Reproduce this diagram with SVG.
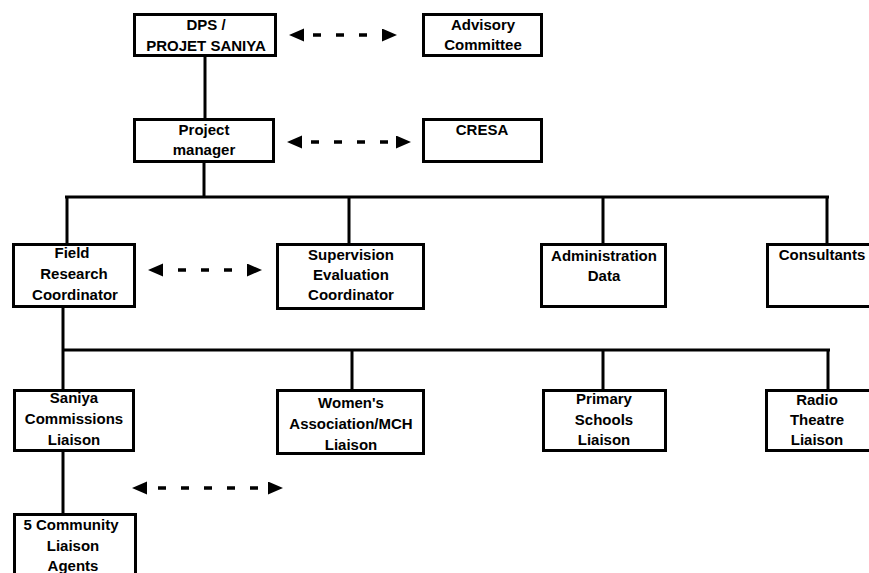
<svg xmlns="http://www.w3.org/2000/svg" width="869" height="573" viewBox="0 0 869 573">
<style>
.box{fill:#fff;stroke:#000;stroke-width:3}
.ln{fill:none;stroke:#000;stroke-width:3}
.dash{fill:none;stroke:#000;stroke-width:3.5;stroke-dasharray:8 15;stroke-dashoffset:14;marker-start:url(#ah);marker-end:url(#ah)}
text{font-family:"Liberation Sans",Arial,sans-serif;font-weight:bold;font-size:15px;fill:#000;text-anchor:middle}
</style>
<defs>
<marker id="ah" markerUnits="userSpaceOnUse" markerWidth="17" markerHeight="14" refX="0" refY="6.5" orient="auto-start-reverse" viewBox="0 0 17 14">
<path d="M0,0 L15,6.5 L0,13 z" fill="#000"/>
</marker>
</defs>
<rect width="869" height="573" fill="#fff"/>
<g id="connectors">
<path class="ln" d="M205,57 V118"/>
<path class="ln" d="M204,163 V197"/>
<path class="ln" d="M65,197 H829"/>
<path class="ln" d="M67,197 V243 M349,197 V243 M603,197 V243 M827,197 V243"/>
<path class="ln" d="M63,308 V350"/>
<path class="ln" d="M62,350 H830"/>
<path class="ln" d="M63,350 V389 M352,350 V389 M603,350 V389 M828,350 V389"/>
<path class="ln" d="M63,452 V513"/>
<path class="dash" d="M304,35 H382"/>
<path class="dash" d="M302,142 H396"/>
<path class="dash" style="stroke-dashoffset:8" d="M163,270 H247"/>
<path class="dash" style="stroke-dashoffset:12" d="M147,488 H268"/>
</g>
<g id="dps"><rect class="box" x="134.5" y="14.5" width="141" height="41"/><text x="206" y="30">DPS /</text><text x="206" y="51">PROJET SANIYA</text></g>
<g id="advisory"><rect class="box" x="423.5" y="14.5" width="118" height="41"/><text x="483" y="30">Advisory</text><text x="483" y="50">Committee</text></g>
<g id="pm"><rect class="box" x="134.5" y="119.5" width="139" height="42"/><text x="204" y="135">Project</text><text x="204" y="155">manager</text></g>
<g id="cresa"><rect class="box" x="423.5" y="119.5" width="118" height="42"/><text x="482" y="135">CRESA</text></g>
<g id="field"><rect class="box" x="13.5" y="244.5" width="121" height="62"/><text x="72" y="258">Field</text><text x="74" y="279">Research</text><text x="75" y="300">Coordinator</text></g>
<g id="supervision"><rect class="box" x="277.5" y="244.5" width="146" height="64"/><text x="351" y="260">Supervision</text><text x="351" y="280">Evaluation</text><text x="351" y="300">Coordinator</text></g>
<g id="admin"><rect class="box" x="541.5" y="244.5" width="124" height="62"/><text x="604" y="261">Administration</text><text x="604" y="281">Data</text></g>
<g id="consultants"><rect class="box" x="767.5" y="244.5" width="120" height="62"/><text x="822" y="260">Consultants</text></g>
<g id="saniya"><rect class="box" x="14.5" y="390.5" width="119" height="60"/><text x="74" y="403">Saniya</text><text x="74" y="424">Commissions</text><text x="74" y="445">Liaison</text></g>
<g id="womens"><rect class="box" x="277.5" y="390.5" width="146" height="63"/><text x="351" y="408">Women's</text><text x="351" y="429">Association/MCH</text><text x="351" y="450">Liaison</text></g>
<g id="primary"><rect class="box" x="543.5" y="390.5" width="122" height="60"/><text x="604" y="404">Primary</text><text x="604" y="425">Schools</text><text x="604" y="445">Liaison</text></g>
<g id="radio"><rect class="box" x="766.5" y="390.5" width="120" height="60"/><text x="817" y="405">Radio</text><text x="817" y="425">Theatre</text><text x="817" y="445">Liaison</text></g>
<g id="community"><rect class="box" x="14.5" y="514.5" width="121" height="80"/><text x="71" y="530">5 Community</text><text x="73" y="551">Liaison</text><text x="73" y="571">Agents</text></g>
</svg>
